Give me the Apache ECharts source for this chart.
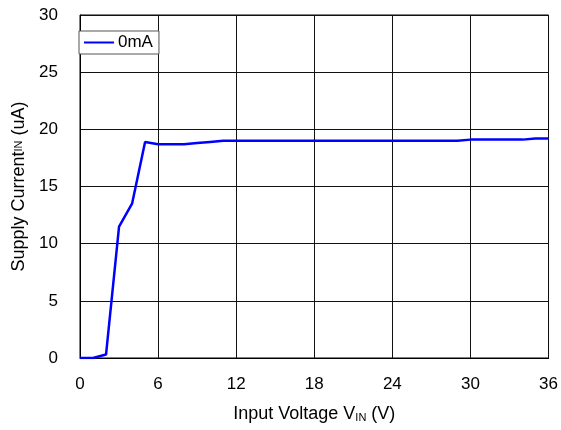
<!DOCTYPE html>
<html>
<head>
<meta charset="utf-8">
<script src="https://cdn.jsdelivr.net/npm/echarts@6/dist/echarts.min.js"></script>
<style>
html,body{margin:0;padding:0;background:#fff;}
#c{width:561px;height:430px;}
</style>
</head>
<body>
<div id="c"></div>
<script>
var seriesName = '0mA';
var vin = [0, 1, 2, 3, 4, 5, 6, 7, 8, 9, 10, 11, 12, 15, 18, 21, 24, 27, 29, 30, 32, 34, 35, 36];
var iin = [0, 0, 0.3, 11.5, 13.5, 18.9, 18.7, 18.7, 18.7, 18.8, 18.9, 19.0, 19.0, 19.0, 19.0, 19.0, 19.0, 19.0, 19.0, 19.1, 19.1, 19.1, 19.2, 19.2];
var xTicks = [0, 6, 12, 18, 24, 30, 36];
var yTicks = [0, 5, 10, 15, 20, 25, 30];

var pts = vin.map(function (v, i) { return [v, iin[i]]; });
var font = 'Liberation Sans, Arial, sans-serif';

var chart = echarts.init(document.getElementById('c'));
chart.setOption({
  animation: false,
  backgroundColor: '#fff',
  grid: {
    left: 80, right: 12, top: 15, bottom: 72,
    show: true, borderColor: '#000', borderWidth: 1
  },
  legend: {
    data: [seriesName],
    left: 79, top: 31,
    orient: 'vertical',
    backgroundColor: '#fff',
    borderColor: '#555', borderWidth: 1,
    padding: [3, 6, 3, 5],
    itemWidth: 30, itemHeight: 10, itemGap: 4,
    icon: 'path://M0,4 L30,4 L30,6 L0,6 Z',
    textStyle: { fontFamily: font, fontSize: 17, color: '#000', padding: [0, 0, 0, -1] }
  },
  xAxis: {
    type: 'value',
    min: xTicks[0], max: xTicks[xTicks.length - 1], interval: xTicks[1] - xTicks[0],
    name: 'Input Voltage V{s|IN} (V)',
    nameLocation: 'middle', nameGap: 47,
    nameTextStyle: {
      fontFamily: font, fontSize: 18, color: '#000',
      rich: { s: { fontFamily: font, fontSize: 11, color: '#000', verticalAlign: 'bottom', padding: [7, 0, 0, 0] } }
    },
    axisLine: { show: true, lineStyle: { color: '#000', width: 1 } },
    axisTick: { show: false },
    axisLabel: { fontFamily: font, fontSize: 17, color: '#000', margin: 18 },
    splitLine: { show: true, lineStyle: { color: '#111', width: 1 } }
  },
  yAxis: {
    type: 'value',
    min: yTicks[0], max: yTicks[yTicks.length - 1], interval: yTicks[1] - yTicks[0],
    name: 'Supply Current{s|IN} (uA)',
    nameLocation: 'middle', nameGap: 51, nameRotate: 90,
    nameTextStyle: {
      fontFamily: font, fontSize: 18, color: '#000',
      rich: { s: { fontFamily: font, fontSize: 11, color: '#000' } }
    },
    axisLine: { show: true, lineStyle: { color: '#000', width: 1 } },
    axisTick: { show: false },
    axisLabel: { fontFamily: font, fontSize: 17, color: '#000', margin: 22 },
    splitLine: { show: true, lineStyle: { color: '#111', width: 1 } }
  },
  series: [{
    name: seriesName,
    type: 'line',
    data: pts,
    symbol: 'none',
    lineStyle: { color: '#0000ff', width: 2.5 },
    itemStyle: { color: '#0000ff' }
  }]
});
</script>
</body>
</html>
